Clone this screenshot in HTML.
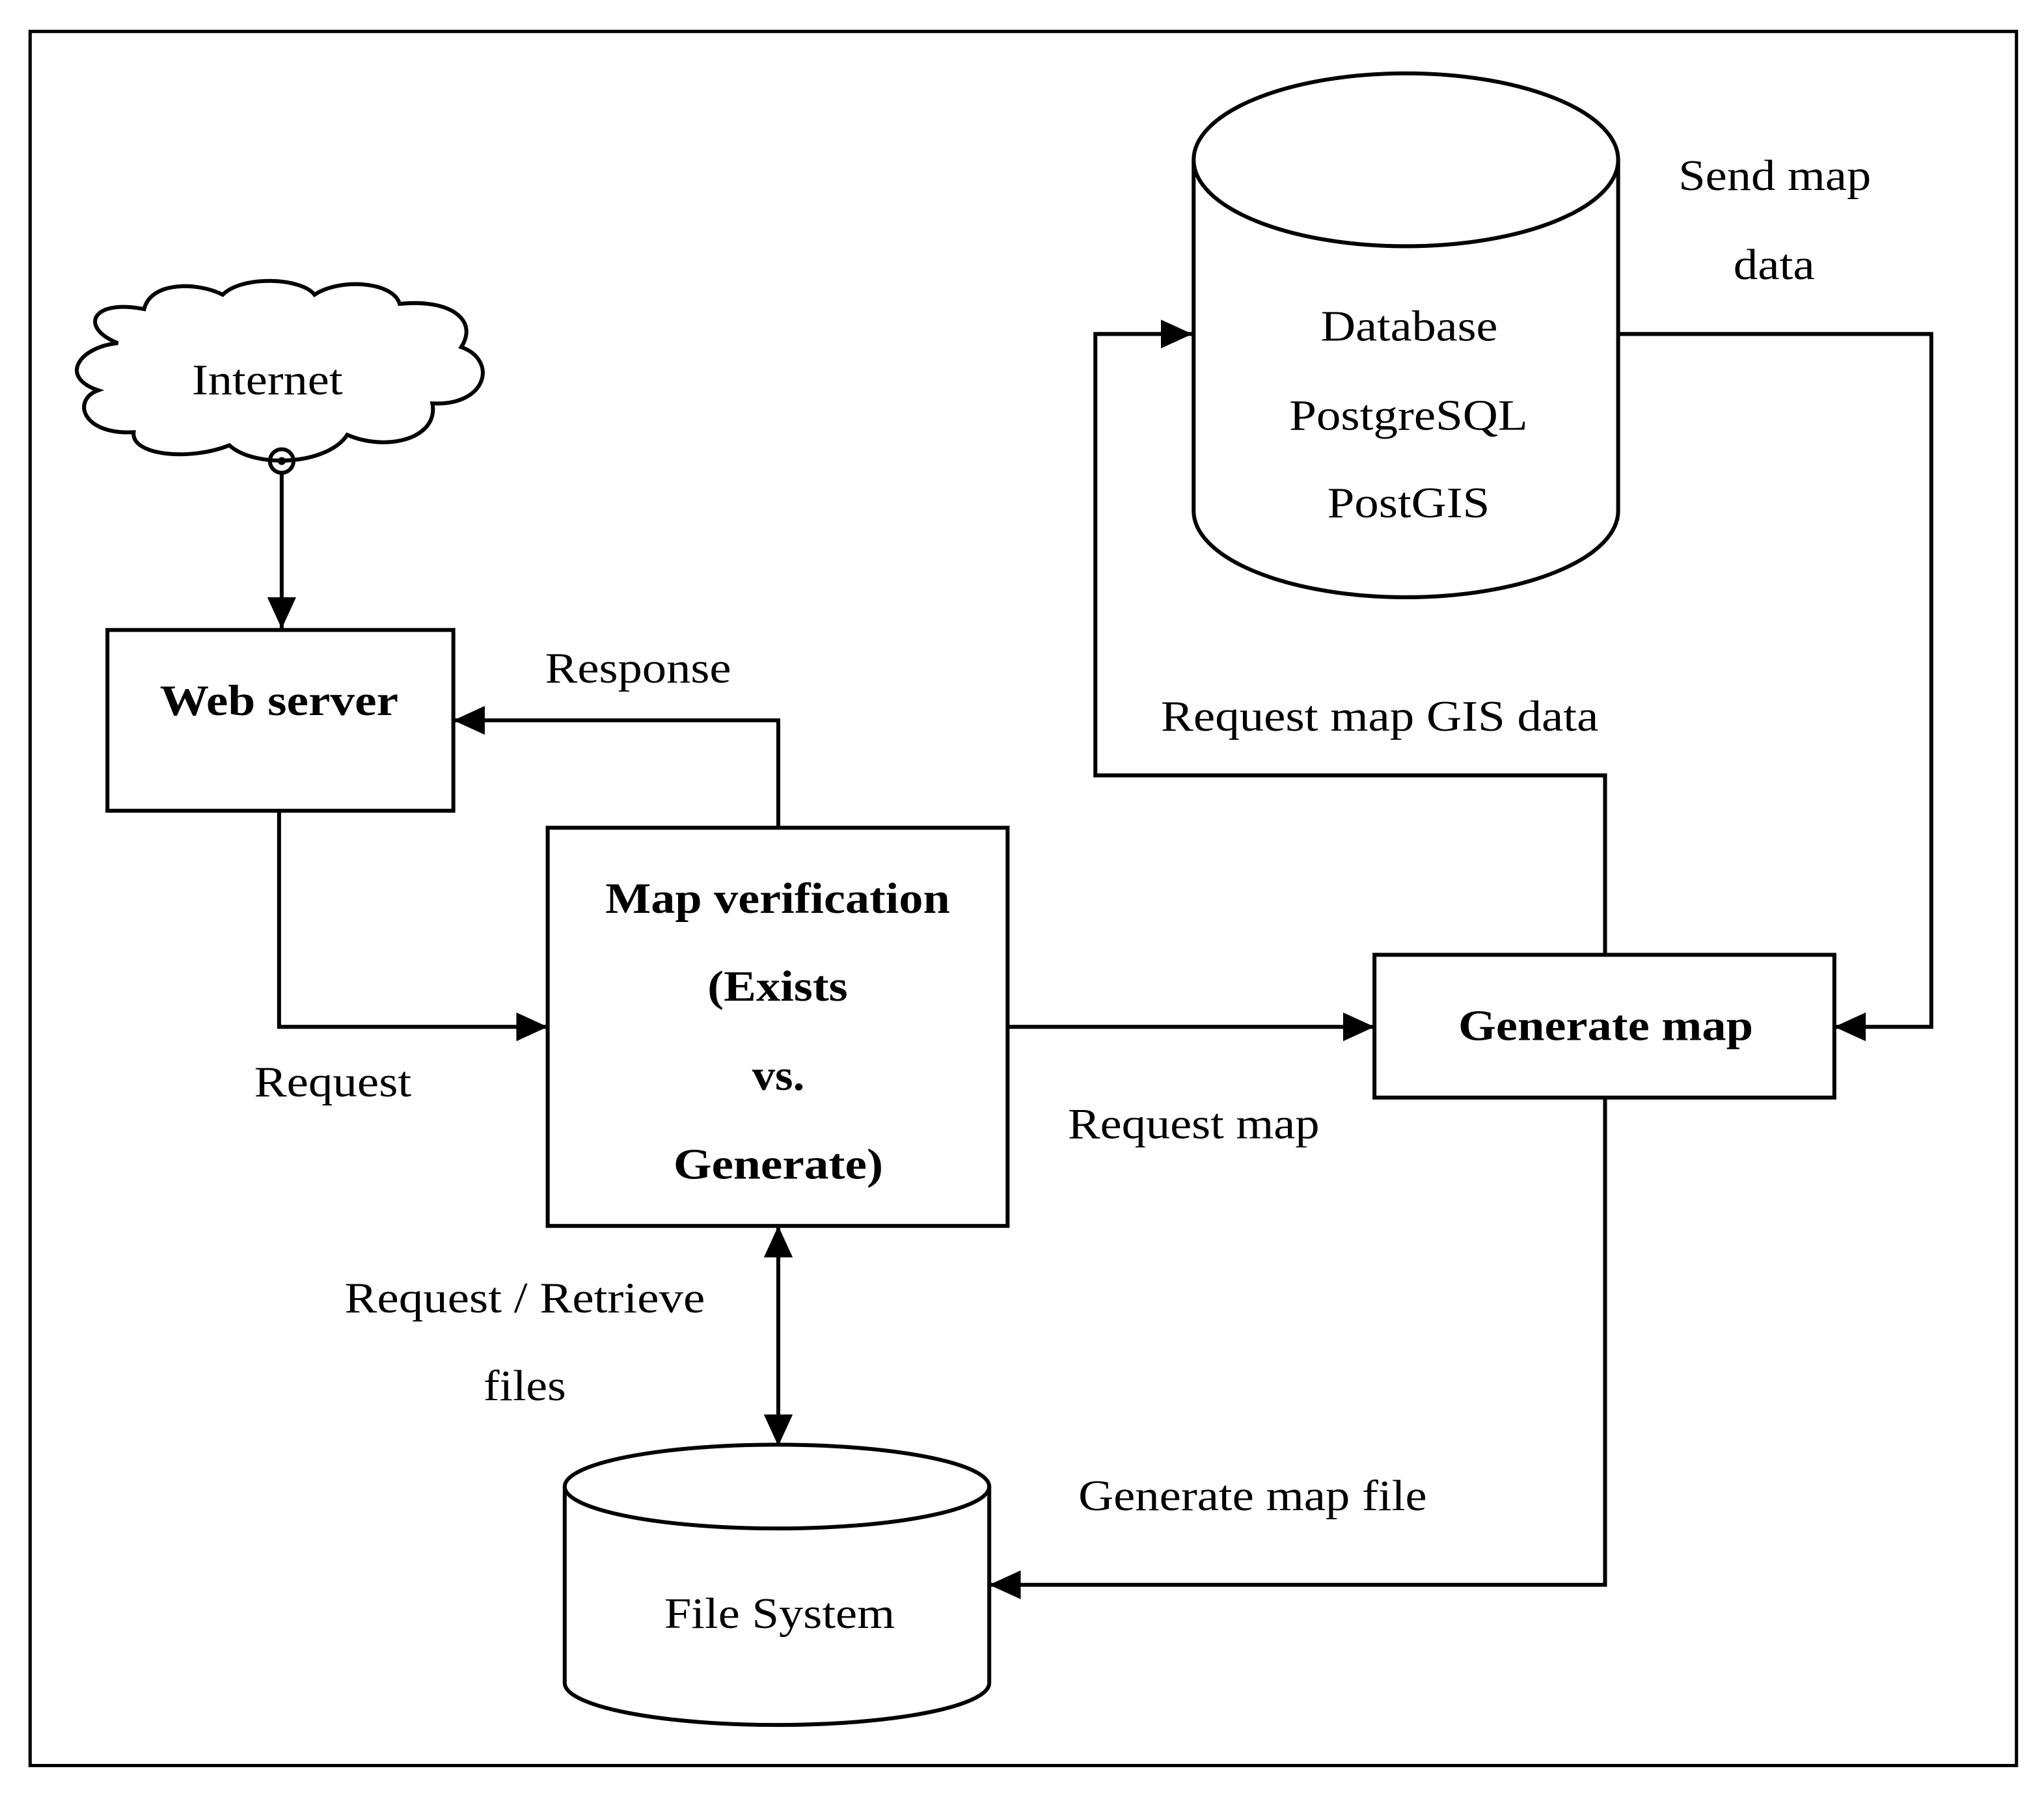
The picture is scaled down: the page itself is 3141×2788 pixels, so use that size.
<!DOCTYPE html>
<html><head><meta charset="utf-8"><style>html,body{margin:0;padding:0;background:#fff}svg{display:block}</style></head>
<body>
<svg width="3141" height="2788" viewBox="0 0 1560 1385" preserveAspectRatio="none" xmlns="http://www.w3.org/2000/svg">
<defs>
<marker id="a" viewBox="0 0 24 22" refX="24" refY="11" markerWidth="24" markerHeight="22" markerUnits="userSpaceOnUse" orient="auto-start-reverse">
<path d="M0,0 L24,11 L0,22 z" fill="#000"/></marker>
</defs>
<style>
.l{fill:none;stroke:#000;stroke-width:3}
text{font-family:"Liberation Serif",serif;font-size:33px;text-anchor:middle;fill:#000}
.b{font-weight:bold}
</style>
<rect x="23" y="24" width="1516" height="1324" fill="none" stroke="#000" stroke-width="2.5"/>
<!-- cloud -->
<path class="l" d="M90,262 C60,250 70,228 110,236 C115,215 150,215 170,225 C185,210 230,212 240,225 C260,212 300,215 305,232 C345,228 365,245 352,265 C380,275 372,310 330,308 C335,335 295,345 265,332 C250,355 195,358 175,340 C145,352 100,348 102,330 C62,332 55,305 75,298 C45,288 60,265 90,262 Z"/>
<text x="204" y="301" textLength="115" lengthAdjust="spacingAndGlyphs">Internet</text>
<circle cx="215" cy="352" r="9" class="l" stroke-width="2.5"/>
<circle cx="215" cy="352" r="3" fill="#000"/>
<line class="l" x1="215" y1="361" x2="215" y2="480" stroke-width="2.5" marker-end="url(#a)"/>
<!-- web server -->
<rect class="l" x="82" y="481" width="264" height="138"/>
<text class="b" x="213" y="546" textLength="182" lengthAdjust="spacingAndGlyphs">Web server</text>
<polyline class="l" points="594,632 594,550 346,550" marker-end="url(#a)"/>
<text x="487" y="521" textLength="142" lengthAdjust="spacingAndGlyphs">Response</text>
<polyline class="l" points="213,619 213,784 418,784" marker-end="url(#a)"/>
<text x="254" y="837" textLength="120" lengthAdjust="spacingAndGlyphs">Request</text>
<!-- map verification -->
<rect class="l" x="418" y="632" width="351" height="304"/>
<text class="b" x="593.5" y="697" textLength="263" lengthAdjust="spacingAndGlyphs">Map verification</text>
<text class="b" x="593.5" y="764" textLength="107" lengthAdjust="spacingAndGlyphs">(Exists</text>
<text class="b" x="594" y="832" textLength="40" lengthAdjust="spacingAndGlyphs">vs.</text>
<text class="b" x="594" y="900" textLength="160" lengthAdjust="spacingAndGlyphs">Generate)</text>
<line class="l" x1="769" y1="784" x2="1049" y2="784" marker-end="url(#a)"/>
<text x="911" y="869" textLength="192" lengthAdjust="spacingAndGlyphs">Request map</text>
<!-- generate map -->
<rect class="l" x="1049" y="729" width="351" height="109"/>
<text class="b" x="1225.5" y="794" textLength="225" lengthAdjust="spacingAndGlyphs">Generate map</text>
<polyline class="l" points="1225,729 1225,592 836,592 836,255 910,255" marker-end="url(#a)"/>
<text x="1053" y="558" textLength="334" lengthAdjust="spacingAndGlyphs">Request map GIS data</text>
<!-- database -->
<path class="l" d="M911,122 L911,390 A162,66 0 0 0 1235,390 L1235,122"/>
<ellipse class="l" cx="1073" cy="122" rx="162" ry="66"/>
<text x="1075.5" y="260" textLength="135" lengthAdjust="spacingAndGlyphs">Database</text>
<text x="1075" y="328" textLength="182" lengthAdjust="spacingAndGlyphs">PostgreSQL</text>
<text x="1075" y="395" textLength="124" lengthAdjust="spacingAndGlyphs">PostGIS</text>
<polyline class="l" points="1235,255 1474,255 1474,784 1400,784" marker-end="url(#a)"/>
<text x="1354.5" y="145" textLength="147" lengthAdjust="spacingAndGlyphs">Send map</text>
<text x="1354" y="213" textLength="62" lengthAdjust="spacingAndGlyphs">data</text>
<!-- double arrow -->
<line class="l" x1="594" y1="936" x2="594" y2="1104" marker-start="url(#a)" marker-end="url(#a)"/>
<text x="400.5" y="1002" textLength="275" lengthAdjust="spacingAndGlyphs">Request / Retrieve</text>
<text x="400.5" y="1069" textLength="63" lengthAdjust="spacingAndGlyphs">files</text>
<!-- file system -->
<path class="l" d="M431,1135 L431,1285 A162,32 0 0 0 755,1285 L755,1135"/>
<ellipse class="l" cx="593" cy="1135" rx="162" ry="32"/>
<text x="595" y="1243" textLength="176" lengthAdjust="spacingAndGlyphs">File System</text>
<polyline class="l" points="1225,838 1225,1210 755,1210" marker-end="url(#a)"/>
<text x="956" y="1153" textLength="266" lengthAdjust="spacingAndGlyphs">Generate map file</text>
</svg>
</body></html>
